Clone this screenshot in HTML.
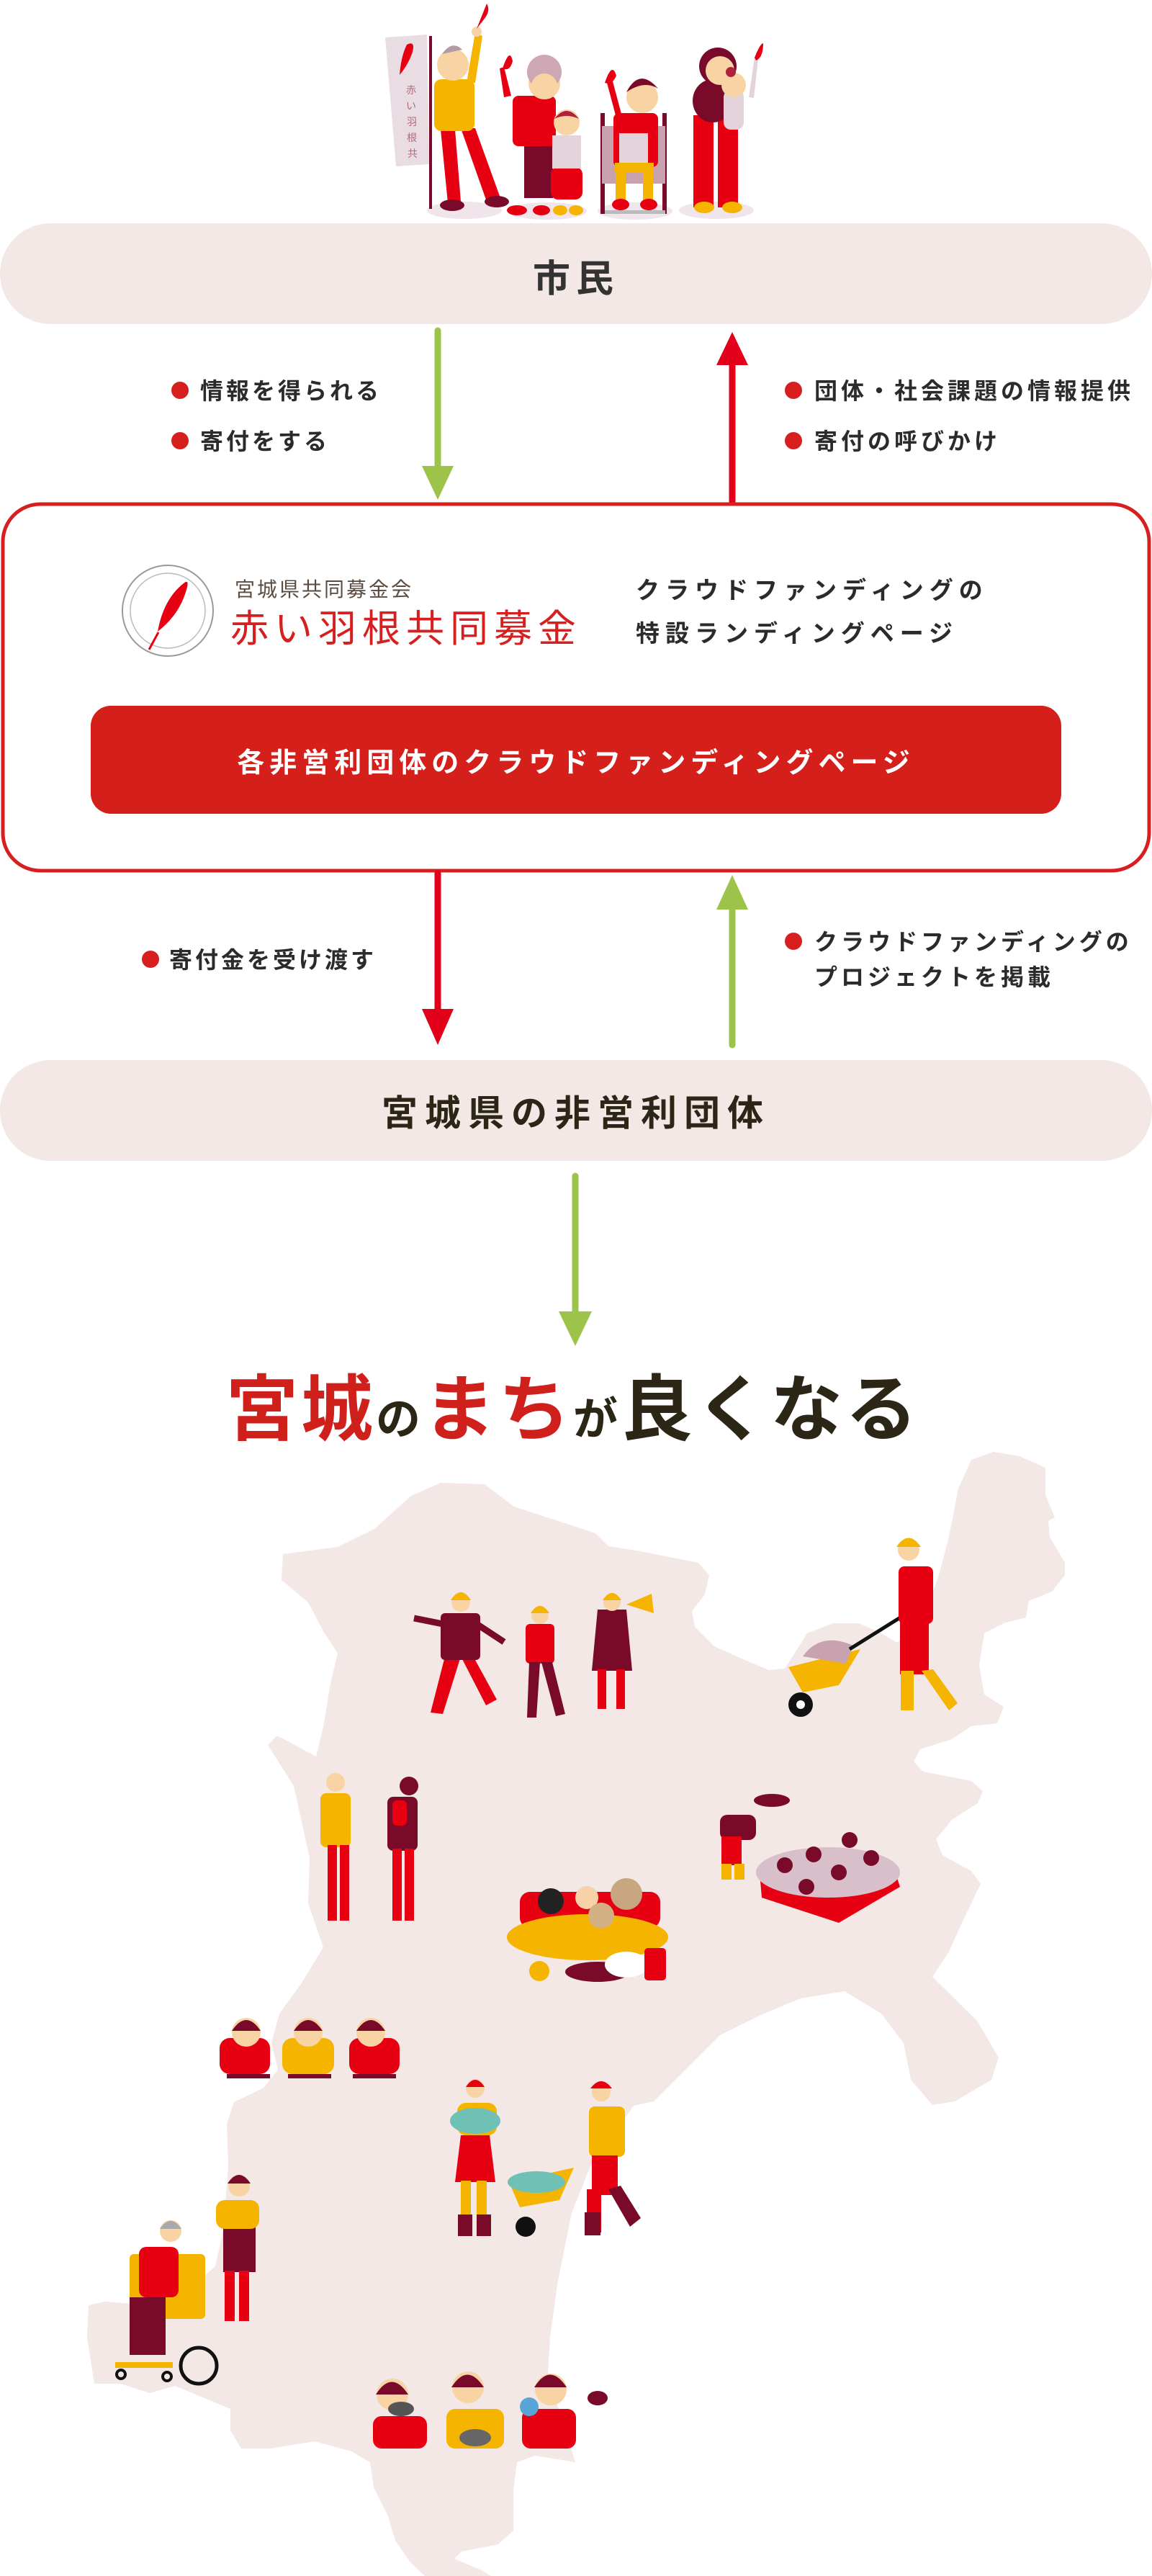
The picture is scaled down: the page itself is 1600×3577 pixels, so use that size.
<!DOCTYPE html>
<html><head><meta charset="utf-8"><style>
html,body{margin:0;padding:0;background:#fff;}
svg{display:block;}
text{font-family:"Liberation Sans","Noto Sans CJK JP",sans-serif;}
</style></head><body>
<svg width="1600" height="3577" viewBox="0 0 1600 3577" xmlns="http://www.w3.org/2000/svg">
<!-- ===== top illustration ===== -->
<g>
<ellipse cx="645" cy="292" rx="52" ry="12" fill="#efe5ea"/>
<ellipse cx="760" cy="293" rx="55" ry="12" fill="#efe5ea"/>
<ellipse cx="882" cy="293" rx="52" ry="12" fill="#efe5ea"/>
<ellipse cx="995" cy="292" rx="52" ry="12" fill="#efe5ea"/>
<!-- banner -->
<rect x="596" y="50" width="4" height="240" fill="#7a0a2a"/>
<polygon points="535,52 593,48 596,228 550,231" fill="#e9dce2"/>
<path d="M565,62 q12,-6 8,10 q-6,18 -18,32 q2,-26 10,-42z" fill="#e60012"/>
<text x="564" y="130" font-size="14" fill="#b06a80">赤</text>
<text x="564" y="152" font-size="14" fill="#b06a80">い</text>
<text x="565" y="174" font-size="14" fill="#b06a80">羽</text>
<text x="565" y="196" font-size="14" fill="#b06a80">根</text>
<text x="566" y="218" font-size="14" fill="#b06a80">共</text>
<!-- old man -->
<polygon points="612,180 632,180 640,280 622,282" fill="#e60012"/>
<polygon points="640,178 660,178 695,275 676,280" fill="#e60012"/>
<ellipse cx="628" cy="285" rx="17" ry="8" fill="#7a0a2a"/>
<ellipse cx="690" cy="280" rx="17" ry="8" fill="#7a0a2a"/>
<rect x="603" y="110" width="56" height="72" rx="10" fill="#f5b400"/>
<polygon points="648,115 660,115 670,50 660,45" fill="#f5b400"/>
<circle cx="662" cy="44" r="7" fill="#f8d3a3"/>
<path d="M662,40 q8,-20 14,-35 q6,10 -4,22 z" fill="#e60012"/>
<circle cx="629" cy="90" r="22" fill="#f8d3a3"/>
<path d="M614,75 q14,-20 28,-6 z" fill="#b49aa5"/>
<!-- grandma -->
<rect x="728" y="195" width="40" height="80" fill="#7a0a2a"/>
<rect x="712" y="133" width="60" height="70" rx="8" fill="#e60012"/>
<path d="M700,135 l-6,-40 l6,-2 l10,40z" fill="#e60012"/>
<path d="M698,95 q10,-30 14,-10 q-4,15 -14,10z" fill="#e60012"/>
<circle cx="756" cy="116" r="22" fill="#f8d3a3"/>
<circle cx="756" cy="100" r="24" fill="#cfa8b5"/>
<circle cx="756" cy="120" r="18" fill="#f8d3a3"/>
<!-- girl -->
<rect x="765" y="232" width="44" height="45" rx="10" fill="#e60012"/>
<rect x="767" y="188" width="40" height="46" fill="#e3d3da"/>
<circle cx="787" cy="170" r="18" fill="#f8d3a3"/>
<path d="M770,165 q17,-22 34,0 q-17,-8 -34,0z" fill="#b0223c"/>
<ellipse cx="778" cy="292" rx="10" ry="7" fill="#f5b400"/>
<ellipse cx="800" cy="292" rx="10" ry="7" fill="#f5b400"/>
<ellipse cx="718" cy="292" rx="14" ry="7" fill="#e60012"/>
<ellipse cx="752" cy="292" rx="12" ry="7" fill="#e60012"/>
<!-- wheelchair -->
<rect x="834" y="157" width="6" height="140" fill="#7a0a2a"/>
<rect x="920" y="157" width="6" height="140" fill="#7a0a2a"/>
<rect x="836" y="175" width="88" height="80" fill="#c9a2b0"/>
<rect x="840" y="292" width="84" height="5" fill="#bbb"/>
<rect x="852" y="157" width="62" height="75" rx="8" fill="#e60012"/>
<rect x="860" y="185" width="40" height="45" fill="#e3d3da"/>
<rect x="854" y="226" width="54" height="14" fill="#f5b400"/>
<rect x="855" y="230" width="14" height="50" fill="#f5b400"/>
<rect x="893" y="230" width="14" height="50" fill="#f5b400"/>
<ellipse cx="862" cy="284" rx="12" ry="8" fill="#e60012"/>
<ellipse cx="901" cy="284" rx="12" ry="8" fill="#e60012"/>
<path d="M855,160 l-12,-45 l8,-2 l12,45z" fill="#e60012"/>
<path d="M840,115 q10,-30 16,-10 q-6,14 -16,10z" fill="#e60012"/>
<circle cx="892" cy="135" r="22" fill="#f8d3a3"/>
<path d="M870,128 q18,-35 44,-5 q-20,-12 -44,5z" fill="#7a0a2a"/>
<!-- mom -->
<rect x="963" y="160" width="28" height="128" fill="#e60012"/>
<rect x="997" y="160" width="28" height="128" fill="#e60012"/>
<ellipse cx="978" cy="288" rx="14" ry="8" fill="#f5b400"/>
<ellipse cx="1017" cy="288" rx="14" ry="8" fill="#f5b400"/>
<ellipse cx="990" cy="140" rx="28" ry="30" fill="#7a0a2a"/>
<circle cx="997" cy="92" r="26" fill="#7a0a2a"/>
<circle cx="1000" cy="98" r="20" fill="#f8d3a3"/>
<rect x="1005" y="125" width="28" height="55" rx="10" fill="#e3d3da"/>
<circle cx="1019" cy="118" r="17" fill="#f8d3a3"/>
<circle cx="1015" cy="100" r="7" fill="#b0223c"/>
<path d="M1040,135 l8,-55 l5,1 l-6,55z" fill="#e3d3da"/>
<path d="M1048,80 q8,-20 12,-20 q0,20 -10,24z" fill="#e60012"/>
</g>

<!-- ===== pill 市民 ===== -->
<rect x="0" y="310" width="1600" height="140" rx="70" fill="#f3e8e5"/>
<text x="800" y="405" font-size="52" font-weight="bold" fill="#333" text-anchor="middle" letter-spacing="8">市民</text>

<!-- arrows 1 -->
<line x1="608" y1="459" x2="608" y2="650" stroke="#9dc34a" stroke-width="9" stroke-linecap="round"/>
<polygon points="586,647 630,647 608,694" fill="#9dc34a"/>
<line x1="1017" y1="500" x2="1017" y2="697" stroke="#e2001a" stroke-width="9" stroke-linecap="round"/>
<polygon points="995,507 1039,507 1017,461" fill="#e2001a"/>

<circle cx="250" cy="542" r="12" fill="#d71f1f"/>
<text x="278" y="554" font-size="32" font-weight="bold" fill="#2b2b2b" letter-spacing="4">情報を得られる</text>
<circle cx="250" cy="612" r="12" fill="#d71f1f"/>
<text x="278" y="624" font-size="32" font-weight="bold" fill="#2b2b2b" letter-spacing="4">寄付をする</text>
<circle cx="1102" cy="542" r="12" fill="#d71f1f"/>
<text x="1131" y="554" font-size="32" font-weight="bold" fill="#2b2b2b" letter-spacing="5">団体・社会課題の情報提供</text>
<circle cx="1102" cy="612" r="12" fill="#d71f1f"/>
<text x="1131" y="624" font-size="32" font-weight="bold" fill="#2b2b2b" letter-spacing="5">寄付の呼びかけ</text>

<!-- ===== red box ===== -->
<rect x="4" y="700" width="1592" height="509" rx="52" fill="#fff" stroke="#d71f1f" stroke-width="5"/>
<circle cx="233" cy="848" r="63" fill="#fff" stroke="#999" stroke-width="2"/>
<circle cx="233" cy="848" r="52" fill="none" stroke="#bbb" stroke-width="1.5"/>
<path d="M255,810 q10,-8 2,15 q-10,30 -38,52 q8,-45 36,-67z" fill="#e60012"/>
<line x1="220" y1="878" x2="207" y2="902" stroke="#e60012" stroke-width="3"/>
<text x="326" y="828" font-size="28" fill="#5a4a40" letter-spacing="3">宮城県共同募金会</text>
<text x="320" y="891" font-size="53" fill="#d71f1f" letter-spacing="8">赤い羽根共同募金</text>
<text x="883" y="831" font-size="33" font-weight="bold" fill="#2b2b2b" letter-spacing="8">クラウドファンディングの</text>
<text x="883" y="891" font-size="33" font-weight="bold" fill="#2b2b2b" letter-spacing="8">特設ランディングページ</text>
<rect x="126" y="980" width="1348" height="150" rx="28" fill="#d41f1a"/>
<text x="800" y="1072" font-size="38" font-weight="bold" fill="#fff" text-anchor="middle" letter-spacing="7">各非営利団体のクラウドファンディングページ</text>

<!-- arrows 2 -->
<line x1="608" y1="1213" x2="608" y2="1405" stroke="#e2001a" stroke-width="9" stroke-linecap="round"/>
<polygon points="586,1401 630,1401 608,1451" fill="#e2001a"/>
<line x1="1017" y1="1258" x2="1017" y2="1451" stroke="#9dc34a" stroke-width="9" stroke-linecap="round"/>
<polygon points="995,1263 1039,1263 1017,1215" fill="#9dc34a"/>
<circle cx="209" cy="1332" r="12" fill="#d71f1f"/>
<text x="235" y="1344" font-size="32" font-weight="bold" fill="#2b2b2b" letter-spacing="4">寄付金を受け渡す</text>
<circle cx="1102" cy="1307" r="12" fill="#d71f1f"/>
<text x="1131" y="1319" font-size="32" font-weight="bold" fill="#2b2b2b" letter-spacing="5">クラウドファンディングの</text>
<text x="1131" y="1368" font-size="32" font-weight="bold" fill="#2b2b2b" letter-spacing="5">プロジェクトを掲載</text>

<!-- pill 2 -->
<rect x="0" y="1472" width="1600" height="140" rx="70" fill="#f3e8e5"/>
<text x="800" y="1563" font-size="50" font-weight="bold" fill="#2b2616" text-anchor="middle" letter-spacing="10">宮城県の非営利団体</text>

<line x1="799" y1="1633" x2="799" y2="1825" stroke="#9dc34a" stroke-width="9" stroke-linecap="round"/>
<polygon points="776,1821 822,1821 799,1869" fill="#9dc34a"/>

<!-- title -->
<text x="796" y="1992" font-size="100" font-weight="bold" text-anchor="middle" letter-spacing="4"><tspan fill="#d0201c">宮城</tspan><tspan fill="#2b2616" font-size="62">の</tspan><tspan fill="#d0201c">まち</tspan><tspan fill="#2b2616" font-size="62">が</tspan><tspan fill="#2b2616">良くなる</tspan></text>

<!-- ===== map ===== -->
<path fill="#f3e8e5" d="M393,2158 L469,2148 L520,2123 L571,2077 L612,2059 L673,2061 L714,2092 L775,2112 L827,2129 L845,2147 L889,2154 L970,2170 L985,2187 L979,2214 L961,2237 L965,2259 L992,2286 L1032,2304 L1068,2319 L1090,2317 L1121,2268 L1157,2254 L1193,2254 L1224,2268 L1246,2281 L1282,2250 L1304,2187 L1318,2134 L1331,2067 L1349,2027 L1380,2016 L1416,2022 L1452,2038 L1452,2076 L1465,2107 L1456,2112 L1458,2134 L1479,2170 L1479,2187 L1461,2210 L1429,2223 L1425,2246 L1394,2254 L1367,2268 L1360,2312 L1367,2353 L1394,2370 L1385,2393 L1349,2397 L1322,2415 L1278,2429 L1269,2446 L1282,2460 L1349,2473 L1365,2487 L1358,2504 L1322,2527 L1300,2554 L1309,2576 L1349,2598 L1362,2616 L1349,2643 L1336,2670 L1318,2710 L1295,2745 L1357,2806 L1387,2857 L1377,2888 L1326,2918 L1295,2923 L1265,2888 L1255,2837 L1224,2796 L1173,2765 L1112,2775 L1061,2796 L1000,2826 L959,2867 L908,2918 L880,2924 L820,3008 L794,3073 L774,3172 L764,3246 L761,3296 L779,3355 L799,3419 L743,3410 L718,3419 L713,3459 L713,3514 L692,3533 L641,3543 L631,3553 L667,3568 L682,3577 L590,3577 L570,3558 L549,3528 L539,3494 L519,3454 L514,3419 L488,3404 L437,3390 L376,3400 L335,3400 L320,3375 L320,3345 L284,3330 L243,3313 L208,3323 L167,3310 L131,3310 L121,3246 L123,3201 L146,3196 L182,3199 L248,3191 L299,3147 L310,3097 L317,3008 L315,2949 L325,2919 L366,2899 L386,2874 L377,2837 L388,2796 L418,2755 L449,2704 L428,2643 L430,2580 L408,2480 L372,2423 L385,2410 L439,2439 L449,2398 L459,2337 L469,2296 L449,2265 L428,2225 L391,2194 Z"/>

<!-- firefighters group -->
<g>
<polygon points="618,2300 640,2300 615,2380 598,2378" fill="#e60012"/>
<polygon points="640,2300 660,2305 690,2360 675,2368" fill="#e60012"/>
<rect x="612" y="2240" width="55" height="65" rx="6" fill="#7a0a2a"/>
<line x1="575" y1="2247" x2="615" y2="2255" stroke="#7a0a2a" stroke-width="9"/>
<line x1="662" y1="2255" x2="700" y2="2280" stroke="#7a0a2a" stroke-width="9"/>
<circle cx="640" cy="2225" r="13" fill="#f8d3a3"/>
<path d="M626,2222 q14,-22 28,0z" fill="#f5b400"/>
<rect x="730" y="2255" width="40" height="55" rx="6" fill="#e60012"/>
<polygon points="735,2308 750,2308 745,2385 732,2385" fill="#7a0a2a"/>
<polygon points="752,2308 767,2308 785,2380 772,2383" fill="#7a0a2a"/>
<circle cx="750" cy="2243" r="12" fill="#f8d3a3"/>
<path d="M737,2240 q13,-20 26,0z" fill="#f5b400"/>
<polygon points="830,2235 870,2235 878,2320 822,2320" fill="#7a0a2a"/>
<rect x="830" y="2318" width="12" height="55" fill="#e60012"/>
<rect x="856" y="2318" width="12" height="55" fill="#e60012"/>
<circle cx="850" cy="2225" r="12" fill="#f8d3a3"/>
<path d="M837,2222 q13,-20 26,0z" fill="#f5b400"/>
<polygon points="870,2228 905,2213 908,2240" fill="#f5b400"/>
</g>
<!-- wheelbarrow man -->
<g>
<path d="M1095,2315 l100,-25 l-30,50 l-50,10z" fill="#f5b400"/>
<path d="M1115,2300 q25,-35 70,-15 l-10,25 z" fill="#c9a2b0"/>
<line x1="1180" y1="2290" x2="1260" y2="2240" stroke="#111" stroke-width="5"/>
<circle cx="1112" cy="2367" r="17" fill="#111"/><circle cx="1112" cy="2367" r="6" fill="#fff"/>
<rect x="1248" y="2175" width="48" height="80" rx="8" fill="#e60012"/>
<rect x="1250" y="2250" width="40" height="75" fill="#e60012"/>
<rect x="1251" y="2320" width="18" height="55" fill="#f5b400"/>
<polygon points="1280,2320 1296,2318 1330,2365 1318,2375" fill="#f5b400"/>
<circle cx="1262" cy="2152" r="15" fill="#f8d3a3"/>
<path d="M1245,2148 q17,-25 34,0z" fill="#f5b400"/>
</g>
<!-- couple -->
<g>
<rect x="445" y="2490" width="42" height="75" rx="8" fill="#f5b400"/>
<rect x="455" y="2562" width="13" height="105" fill="#e60012"/>
<rect x="472" y="2562" width="13" height="105" fill="#e60012"/>
<circle cx="466" cy="2475" r="13" fill="#f8d3a3"/>
<rect x="538" y="2495" width="42" height="75" rx="8" fill="#7a0a2a"/>
<rect x="545" y="2567" width="13" height="100" fill="#e60012"/>
<rect x="562" y="2567" width="13" height="100" fill="#e60012"/>
<circle cx="568" cy="2480" r="13" fill="#7a0a2a"/>
<rect x="545" y="2500" width="20" height="35" rx="6" fill="#e60012"/>
</g>
<!-- pets -->
<g>
<rect x="722" y="2627" width="195" height="50" rx="14" fill="#e60012"/>
<ellipse cx="816" cy="2690" rx="112" ry="32" fill="#f5b400"/>
<circle cx="765" cy="2640" r="18" fill="#222"/>
<circle cx="815" cy="2635" r="16" fill="#f7d2a8"/>
<circle cx="870" cy="2630" r="22" fill="#c8a67f"/>
<circle cx="835" cy="2660" r="18" fill="#d2b084"/>
<circle cx="749" cy="2737" r="14" fill="#f5b400"/>
<ellipse cx="830" cy="2738" rx="45" ry="14" fill="#7a0a2a"/>
<ellipse cx="870" cy="2728" rx="30" ry="18" fill="#fff"/>
<rect x="895" y="2705" width="30" height="45" rx="5" fill="#e60012"/>
</g>
<!-- gardener + flowers -->
<g>
<polygon points="1055,2600 1240,2590 1250,2620 1165,2670 1058,2635" fill="#e60012"/>
<ellipse cx="1150" cy="2600" rx="100" ry="35" fill="#d8bfc9"/>
<circle cx="1090" cy="2590" r="11" fill="#7a0a2a"/><circle cx="1130" cy="2575" r="11" fill="#7a0a2a"/>
<circle cx="1165" cy="2600" r="11" fill="#7a0a2a"/><circle cx="1210" cy="2580" r="11" fill="#7a0a2a"/>
<circle cx="1120" cy="2620" r="11" fill="#7a0a2a"/><circle cx="1180" cy="2555" r="11" fill="#7a0a2a"/>
<rect x="1000" y="2520" width="50" height="35" rx="10" fill="#7a0a2a"/>
<rect x="1002" y="2550" width="28" height="40" fill="#e60012"/>
<rect x="1002" y="2588" width="14" height="22" fill="#f5b400"/><rect x="1020" y="2588" width="14" height="22" fill="#f5b400"/>
<ellipse cx="1072" cy="2500" rx="25" ry="9" fill="#7a0a2a"/>
</g>
<!-- kids -->
<g>
<rect x="305" y="2830" width="70" height="50" rx="14" fill="#e60012"/>
<circle cx="342" cy="2822" r="20" fill="#f8d3a3"/><path d="M322,2820 q20,-30 40,0z" fill="#7a0a2a"/>
<rect x="392" y="2830" width="72" height="50" rx="14" fill="#f5b400"/>
<circle cx="428" cy="2822" r="20" fill="#f8d3a3"/><path d="M408,2820 q20,-30 40,0z" fill="#7a0a2a"/>
<rect x="485" y="2830" width="70" height="50" rx="14" fill="#e60012"/>
<circle cx="515" cy="2822" r="20" fill="#f8d3a3"/><path d="M495,2820 q20,-30 40,0z" fill="#7a0a2a"/>
<rect x="315" y="2880" width="60" height="6" fill="#7a0a2a"/><rect x="400" y="2880" width="60" height="6" fill="#7a0a2a"/><rect x="490" y="2880" width="60" height="6" fill="#7a0a2a"/>
</g>
<!-- farmers -->
<g>
<rect x="635" y="2920" width="55" height="45" rx="12" fill="#f5b400"/>
<ellipse cx="660" cy="2945" rx="35" ry="18" fill="#6fc1b6"/>
<polygon points="640,2965 680,2965 688,3030 632,3030" fill="#e60012"/>
<rect x="640" y="3028" width="14" height="60" fill="#f5b400"/><rect x="662" y="3028" width="14" height="60" fill="#f5b400"/>
<rect x="636" y="3075" width="20" height="30" fill="#7a0a2a"/><rect x="662" y="3075" width="20" height="30" fill="#7a0a2a"/>
<circle cx="660" cy="2900" r="13" fill="#f8d3a3"/><path d="M647,2898 q13,-20 26,0z" fill="#e60012"/>
<path d="M707,3030 l90,-20 l-20,45 l-55,10z" fill="#f5b400"/>
<ellipse cx="745" cy="3030" rx="40" ry="15" fill="#6fc1b6"/>
<circle cx="730" cy="3092" r="14" fill="#111"/>
<rect x="818" y="2925" width="50" height="70" rx="8" fill="#f5b400"/>
<rect x="822" y="2993" width="36" height="55" fill="#e60012"/>
<rect x="815" y="3040" width="20" height="60" fill="#e60012"/>
<polygon points="845,3040 862,3035 890,3080 875,3092" fill="#7a0a2a"/>
<rect x="812" y="3072" width="22" height="32" fill="#7a0a2a"/>
<circle cx="835" cy="2905" r="13" fill="#f8d3a3"/><path d="M820,2900 q15,-20 30,0z" fill="#e60012"/>
</g>
<!-- wheelchair -->
<g>
<rect x="180" y="3130" width="105" height="90" rx="6" fill="#f5b400"/>
<rect x="193" y="3120" width="55" height="70" rx="10" fill="#e60012"/>
<rect x="180" y="3190" width="50" height="80" fill="#7a0a2a"/>
<circle cx="237" cy="3098" r="15" fill="#f8d3a3"/><path d="M222,3095 q15,-22 30,0z" fill="#aaa"/>
<circle cx="276" cy="3285" r="25" fill="none" stroke="#111" stroke-width="5"/>
<circle cx="168" cy="3297" r="6" fill="none" stroke="#111" stroke-width="4"/>
<circle cx="232" cy="3300" r="6" fill="none" stroke="#111" stroke-width="4"/>
<rect x="160" y="3280" width="80" height="8" fill="#f5b400"/>
<rect x="310" y="3060" width="45" height="95" fill="#7a0a2a"/>
<rect x="300" y="3055" width="60" height="40" rx="12" fill="#f5b400"/>
<rect x="312" y="3153" width="14" height="70" fill="#e60012"/><rect x="332" y="3153" width="14" height="70" fill="#e60012"/>
<circle cx="332" cy="3035" r="15" fill="#f8d3a3"/><path d="M316,3032 q16,-24 32,0z" fill="#7a0a2a"/>
</g>
<!-- eating -->
<g>
<rect x="518" y="3355" width="75" height="45" rx="12" fill="#e60012"/>
<circle cx="545" cy="3325" r="22" fill="#f8d3a3"/><path d="M522,3325 q22,-35 45,0z" fill="#7a0a2a"/>
<ellipse cx="557" cy="3345" rx="18" ry="10" fill="#555"/>
<rect x="620" y="3345" width="80" height="55" rx="12" fill="#f5b400"/>
<circle cx="650" cy="3315" r="22" fill="#f8d3a3"/><path d="M627,3315 q22,-35 45,0z" fill="#7a0a2a"/>
<ellipse cx="660" cy="3385" rx="22" ry="12" fill="#666"/>
<rect x="725" y="3345" width="75" height="55" rx="12" fill="#e60012"/>
<circle cx="765" cy="3318" r="22" fill="#f8d3a3"/><path d="M742,3315 q22,-35 45,0z" fill="#7a0a2a"/>
<ellipse cx="830" cy="3330" rx="14" ry="10" fill="#7a0a2a"/>
<circle cx="735" cy="3342" r="13" fill="#5aa5d8"/>
</g>
</svg>
</body></html>
